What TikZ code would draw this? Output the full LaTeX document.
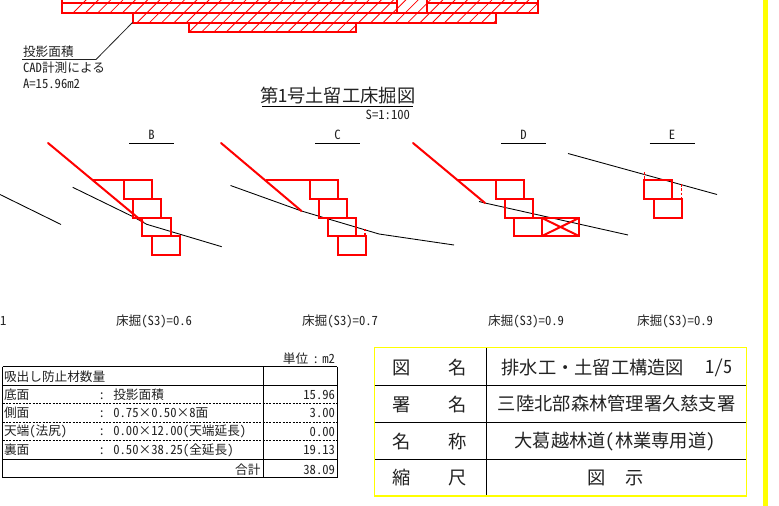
\documentclass[tikz,border=0pt]{standalone}
\usepackage{fontspec}
\newfontfamily\jp[RawFeature=+hwid]{Noto Sans CJK JP}
\definecolor{ink}{HTML}{222222}
\definecolor{yel}{HTML}{FFFF00}
\tikzset{
  txt/.style={inner sep=0pt,outer sep=0pt,text=ink,font=\jp\fontsize{9.5pt}{11pt}\selectfont},
  big/.style={inner sep=0pt,outer sep=0pt,text=ink,font=\jp\fontsize{13.7pt}{16pt}\selectfont},
  redbox/.style={draw=red,line width=1.5pt,line join=miter},
  redln/.style={draw=red,line width=1.5pt,line cap=round},
  ground/.style={draw=black,line width=0.65pt},
  hatchln/.style={draw=red,line width=0.6pt},
  tline/.style={draw=black,line width=0.65pt},
  tdash/.style={draw=black,line width=0.55pt,dash pattern=on 1.5pt off 1pt},
  secln/.style={draw=black,line width=0.7pt}
}
\newcommand{\hatchfill}[4]{% x1 y1 x2 y2
  \begin{scope}
    \clip (#1,#2) rectangle (#3,#4);
    \foreach \k in {0,12.3,...,620}{\draw[hatchln] (50+\k,36) -- (50+\k+40,-4);}
  \end{scope}}
\newcommand{\retain}[4]{\draw[redbox] (#1,#2) rectangle (#3,#4);}
\begin{document}
\begin{tikzpicture}[x=0.75pt,y=-0.75pt]
\useasboundingbox (0,0) rectangle (779,506);
\fill[white] (0,0) rectangle (779,506);
\fill[yel] (763,0) rectangle (768,506);

% hatched plan
\hatchfill{62}{0}{397}{13}
\hatchfill{397}{0}{427}{13}
\hatchfill{427}{0}{538}{13}
\hatchfill{133}{13}{496}{23}
\hatchfill{189}{23}{356}{32}
\draw[redbox] (62,-2) rectangle (397,3);
\draw[redbox] (62,3) rectangle (397,13);
\draw[redbox] (427,-2) rectangle (538,3);
\draw[redbox] (427,3) rectangle (538,13);
\draw[redbox] (133,13) rectangle (496,23);
\draw[redbox] (189,23) rectangle (356,32);

% leader
\coordinate (leadA) at (132.5,22.5);
\coordinate (leadB) at (96,59.5);
\coordinate (leadC) at (22,59.5);
\draw[draw=ink,line width=0.6pt] (leadA) -- (leadB) -- (leadC);
\node[txt,anchor=west] (pa1) at (23,52) {投影面積};
\node[txt,anchor=west] (pa2) at (23,68) {CAD計測による};
\node[txt,anchor=west] (pa3) at (23,84) {A=15.96m2};

% title
\node[big,anchor=west] (ttl) at (260,96) {第1号土留工床掘図};
\draw[draw=black,line width=0.7pt] (262,106) -- (412.5,106);
\node[txt,anchor=east] (scl) at (410,114.5) {S=1:100};

% section labels
\foreach \n/\lx in {B/151.5,C/337.5,D/523.5,E/672}{
  \node[txt] (sec\n) at (\lx,135) {\n};
  \draw[secln] (\lx-22.5,143.3) -- (\lx+22.5,143.3);
}

% A fragment
\node[txt,anchor=west] (tagA) at (0,321) {1};
\draw[ground] (0,194.5) -- (61,224.5);

% B
\draw[ground] (72.7,187.3) -- (133,216.7) -- (146.7,224.3) -- (221.7,246.7);
\draw[redln] (48,143) -- (143,222);
\draw[redbox] (93,180) -- (124,180);
\retain{124}{180}{152}{199}
\retain{133}{199}{161}{218}
\retain{142}{218}{171}{236}
\retain{152}{236}{180}{255}
\node[txt] (sB) at (154,321) {床掘(S3)=0.6};

% C
\draw[ground] (230.5,185.5) -- (301.5,211) -- (379,234) -- (454,245);
\draw[redln] (221,143) -- (301.5,211);
\draw[redbox] (266,180) -- (310,180);
\retain{310}{180}{338}{199}
\retain{319}{199}{347}{218}
\retain{328}{218}{356}{236}
\retain{338}{236}{366}{255}
\draw[draw=red,line width=0.9pt,dash pattern=on 1.5pt off 1pt] (365,229.5) -- (365,236);
\node[txt] (sC) at (340,321) {床掘(S3)=0.7};

% D
\draw[ground] (479,201.5) -- (485,203) -- (628,235);
\draw[redln] (413,143) -- (485,203);
\draw[redbox] (458,180) -- (496,180);
\retain{496}{180}{524}{199}
\retain{505}{199}{533}{218}
\retain{514}{218}{542}{236}
\retain{542}{218}{579}{236}
\draw[redbox] (542,218) -- (579,236) (542,236) -- (579,218);
\node[txt] (sD) at (526,321) {床掘(S3)=0.9};

% E
\draw[ground] (568,153.5) -- (717,194.5);
\retain{644}{180}{672}{199}
\retain{654}{199}{682}{218}
\draw[draw=red,line width=0.9pt,dash pattern=on 2pt off 1pt] (644.5,172) -- (644.5,180);
\draw[draw=red,line width=0.9pt,dash pattern=on 2pt off 1.2pt] (681.7,184) -- (681.7,199);
\node[txt] (sE) at (675,321) {床掘(S3)=0.9};

% quantity table
\node[txt,anchor=east] (unit) at (335,359) {単位\hspace{3.2pt}:\hspace{2.6pt}m2};
\draw[tline] (2.5,366.7) -- (337,366.7);
\draw[tline] (2.5,385.7) -- (337,385.7);
\draw[tdash] (2.5,403.7) -- (337,403.7);
\draw[tdash] (2.5,422.7) -- (337,422.7);
\draw[tdash] (2.5,440.5) -- (337,440.5);
\draw[tline] (2.5,459.3) -- (337,459.3);
\draw[tline] (2.5,477.7) -- (337,477.7);
\draw[tline] (2.5,366.7) -- (2.5,477.7);
\draw[tline] (263.5,366.7) -- (263.5,477.7);
\draw[tline] (337,366.7) -- (337,477.7);
\node[txt,anchor=west] (q0) at (4,376.5) {吸出し防止材数量};
\node[txt,anchor=west] (q1) at (4,395) {底面};
\node[txt,anchor=west] (q2) at (4,413) {側面};
\node[txt,anchor=west] (q3) at (4,431.5) {天端(法尻)};
\node[txt,anchor=west] (q4) at (4,450) {裏面};
\node[txt,anchor=west] (d1) at (98.5,395) {: 投影面積};
\node[txt,anchor=west] (d2) at (98.5,413) {: 0.75×0.50×8面};
\node[txt,anchor=west] (d3) at (98.5,431.5) {: 0.00×12.00(天端延長)};
\node[txt,anchor=west] (d4) at (98.5,450) {: 0.50×38.25(全延長)};
\node[txt,anchor=east] (v1) at (335,395) {15.96};
\node[txt,anchor=east] (v2) at (335,413) {3.00};
\node[txt,anchor=east] (v3) at (335,431.5) {0.00};
\node[txt,anchor=east] (v4) at (335,450) {19.13};
\node[txt,anchor=east] (tot) at (260.5,469.5) {合計};
\node[txt,anchor=east] (v5) at (335,469.5) {38.09};

% title block
\draw[tline] (374.5,385) -- (746.7,385);
\draw[tline] (374.5,422.3) -- (746.7,422.3);
\draw[tline] (374.5,459.3) -- (746.7,459.3);
\draw[draw=black,line width=0.8pt] (486.3,347.7) -- (486.3,496);
\draw[draw=yel,line width=0.8pt] (374.5,347.7) rectangle (746.7,496);
\node[big] (a1) at (402,368) {図}; \node[big] (b1) at (457.5,368) {名};
\node[big] (a2) at (402,405) {署}; \node[big] (b2) at (457.5,405) {名};
\node[big] (a3) at (402,441.5) {名}; \node[big] (b3) at (457.5,441.5) {称};
\node[big] (a4) at (402,478) {縮}; \node[big] (b4) at (457.5,478) {尺};
\node[big,anchor=west] (c1) at (501.5,367.5) {排水工・土留工構造図};
\node[big,anchor=west] (c1b) at (705.5,367.5) {1/5};
\node[big] (c2) at (616.7,404) {三陸北部森林管理署久慈支署};
\node[big] (c3) at (615,441.5) {大葛越林道(林業専用道)};
\node[big] (c4a) at (597,478) {図}; \node[big] (c4b) at (635,478) {示};
\end{tikzpicture}
\end{document}
